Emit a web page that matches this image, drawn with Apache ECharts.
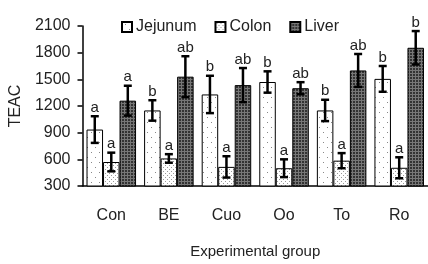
<!DOCTYPE html>
<html>
<head>
<meta charset="utf-8">
<script src="https://cdn.jsdelivr.net/npm/echarts@6/dist/echarts.min.js"></script>
<style>
  html, body { margin: 0; padding: 0; background: #fff; }
  #chart { width: 428px; height: 264px; }
</style>
</head>
<body>
<div id="chart"></div>
<script>
var groups = ['Con', 'BE', 'Cuo', 'Oo', 'To', 'Ro'];
var yTicks = [300, 600, 900, 1200, 1500, 1800, 2100];

var jejunum = [935, 1150, 1330, 1470, 1150, 1505];
var jejunumErr = [150, 115, 210, 120, 120, 145];
var jejunumSig = ['a', 'b', 'b', 'b', 'b', 'b'];

var colon = [570, 610, 515, 500, 585, 505];
var colonErr = [105, 48, 120, 100, 85, 118];
var colonSig = ['a', 'a', 'a', 'a', 'a', 'a'];

var liver = [1260, 1530, 1435, 1400, 1600, 1855];
var liverErr = [168, 230, 192, 68, 185, 188];
var liverSig = ['a', 'ab', 'ab', 'ab', 'ab', 'b'];

var FONT = 'Liberation Sans, Arial, sans-serif';

// little fill patterns like the printed figure
function makePattern(w, h, bg, dots, dotColor) {
  var c = document.createElement('canvas');
  c.width = w; c.height = h;
  var ctx = c.getContext('2d');
  ctx.fillStyle = bg;
  ctx.fillRect(0, 0, w, h);
  ctx.fillStyle = dotColor;
  for (var i = 0; i < dots.length; i++) {
    ctx.fillRect(dots[i][0], dots[i][1], 1, 1);
  }
  return { image: c, repeat: 'repeat' };
}

var patJejunum = makePattern(8, 10, '#ffffff', [[3, 2], [7, 7]], '#888');
var patColon = makePattern(4, 4, '#ffffff', [[1, 1], [3, 3]], '#999');
var patLiver = makePattern(3, 3, '#333333', [[1, 0], [1, 1], [1, 2], [0, 1], [2, 1]], '#777');

var barData = [
  { name: 'Jejunum', vals: jejunum, err: jejunumErr, sig: jejunumSig, pat: patJejunum },
  { name: 'Colon', vals: colon, err: colonErr, sig: colonSig, pat: patColon },
  { name: 'Liver', vals: liver, err: liverErr, sig: liverSig, pat: patLiver }
];

var catGap = 0.14;

function errorRenderer(k) {
  return function (params, api) {
    var cat = api.value(0);
    var val = api.value(1);
    var err = api.value(2);
    var sig = barData[k].sig[params.dataIndex];
    var band = api.size([1, 0])[0];
    var bw = band * (1 - catGap) / 3;
    var center = api.coord([cat, val]);
    var x = center[0] + (k - 1) * bw;
    var top = api.coord([cat, val + err])[1];
    var bot = api.coord([cat, val - err])[1];
    var cap = 4;
    var lineStyle = { stroke: '#000', lineWidth: 2.5 };
    return {
      type: 'group',
      children: [
        { type: 'line', shape: { x1: x, y1: top, x2: x, y2: bot }, style: lineStyle },
        { type: 'line', shape: { x1: x - cap, y1: top, x2: x + cap, y2: top }, style: lineStyle },
        { type: 'line', shape: { x1: x - cap, y1: bot, x2: x + cap, y2: bot }, style: lineStyle },
        {
          type: 'text',
          style: {
            text: sig, x: x, y: top - 1,
            align: 'center', verticalAlign: 'bottom',
            font: '15px ' + FONT, fill: '#222'
          }
        }
      ]
    };
  };
}

var series = [];
barData.forEach(function (d) {
  series.push({
    name: d.name,
    type: 'bar',
    data: d.vals,
    barGap: '0%',
    barCategoryGap: (catGap * 100) + '%',
    itemStyle: { color: d.pat, borderColor: '#000', borderWidth: 1 }
  });
});
barData.forEach(function (d, k) {
  series.push({
    type: 'custom',
    z: 5,
    renderItem: errorRenderer(k),
    data: d.vals.map(function (v, i) { return [i, v, d.err[i]]; })
  });
});

var chart = echarts.init(document.getElementById('chart'));
chart.setOption({
  animation: false,
  backgroundColor: '#fff',
  textStyle: { fontFamily: FONT },
  legend: {
    data: ['Jejunum', 'Colon', 'Liver'],
    left: 116,
    top: 14,
    itemWidth: 10,
    itemHeight: 10,
    itemGap: 18,
    icon: 'rect',
    textStyle: { fontSize: 16, color: '#222', padding: [0, 0, 0, -1] }
  },
  grid: { left: 79, right: 0, top: 26, bottom: 67 },
  xAxis: {
    type: 'category',
    data: groups,
    name: 'Experimental group',
    nameLocation: 'middle',
    nameGap: 58,
    nameTextStyle: { fontSize: 15, color: '#222' },
    axisLine: { lineStyle: { color: '#000', width: 1.5 } },
    axisTick: { length: 6, lineStyle: { color: '#000', width: 1.5 } },
    axisLabel: { fontSize: 16, color: '#222', margin: 22 }
  },
  yAxis: {
    type: 'value',
    min: yTicks[0],
    max: yTicks[yTicks.length - 1],
    interval: 300,
    name: 'TEAC',
    nameLocation: 'middle',
    nameGap: 52,
    nameTextStyle: { fontSize: 16, color: '#222' },
    axisLine: { show: true, lineStyle: { color: '#000', width: 1.5 } },
    axisTick: { show: true, length: 5, lineStyle: { color: '#000', width: 1.5 } },
    axisLabel: {
      fontSize: 16, color: '#222', margin: 12,
      formatter: function (v) { return String(v); }
    },
    splitLine: { show: false }
  },
  series: series
});
</script>
</body>
</html>
